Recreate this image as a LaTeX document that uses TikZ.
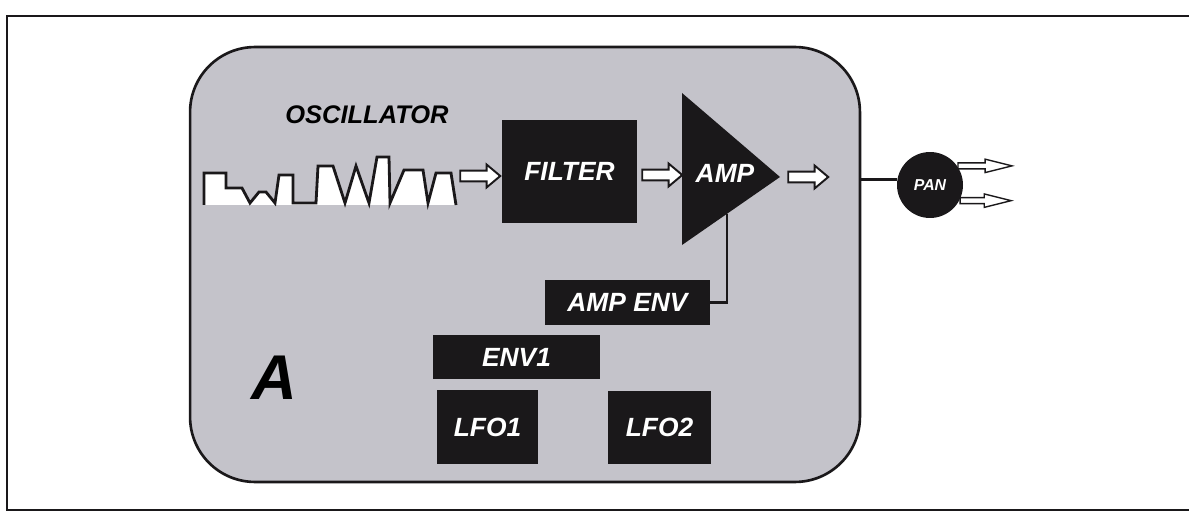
\documentclass[tikz,border=0pt]{standalone}
\usepackage{fontspec}
\setmainfont{Liberation Sans}
\usetikzlibrary{shapes.arrows,calc}
\definecolor{halftone}{RGB}{196,195,202}
\definecolor{ink}{RGB}{26,24,26}
\begin{document}
\begin{tikzpicture}[x=0.02cm,y=-0.02cm,
        lbl/.style={font=\bfseries\itshape\fontsize{15}{15}\selectfont},
        blk/.style={lbl,fill=ink,text=white,inner sep=0pt},
        hollow/.style={single arrow,draw=ink,line width=1.1pt,fill=white,minimum height=0.8cm,inner sep=0.09cm,single arrow head extend=0.12cm,single arrow tip angle=80},
        thinarrow/.style={single arrow,draw=ink,line width=0.8pt,fill=white,inner sep=0.045cm,single arrow head extend=0.075cm,single arrow tip angle=28}]
        \useasboundingbox (0,0) rectangle (1189,513);
        % frame, open on the right
        \draw[ink,line width=1.6pt] (1189,16) -- (7,16) -- (7,510) -- (1189,510);
        % voice A
        \node[draw=ink,line width=1.5pt,fill=halftone,rounded corners=1.3cm,minimum width=13.4cm,minimum height=8.7cm] (voice) at (525,264.5) {};
        \node[font=\bfseries\itshape\fontsize{36}{36}\selectfont] (voice-id) at (274,378) {A};
        % oscillator waveform
        \node[lbl,font=\bfseries\itshape\fontsize{14.5}{14.5}\selectfont] (osc) at (367,115) {OSCILLATOR};
        \draw[ink,line width=1.6pt,fill=white] (204,205) -- (204,173) -- (226,173) -- (226,188) -- (242,188) -- (250,203) -- (259,192) -- (266,192) -- (275,203) -- (279,175) -- (293,175) -- (293,203) -- (316,203) -- (318,166) -- (333,166) -- (345,203) -- (356,166) -- (369,203) -- (377,157) -- (389,157) -- (390,203) -- (404,170) -- (423,170) -- (428,203) -- (436,173) -- (451,173) -- (456,205);
        % modules
        \foreach \n/\x/\y/\w/\h/\t in {filter/569.5/171.5/2.7/2.06/FILTER,ampenv/627.5/302.5/3.3/0.9/AMP ENV,env1/516.5/357/3.34/0.88/ENV1,lfo1/487.5/427/2.02/1.48/LFO1,lfo2/659.5/427.5/2.06/1.48/LFO2}{
            \node[blk,minimum width=\w cm,minimum height=\h cm] (\n) at (\x,\y) {\t};
        }
        \fill[ink] (682,93) coordinate (amp-top) -- (780,177) coordinate (amp-tip) -- (682,245) coordinate (amp-bot) -- cycle;
        \node[lbl,text=white] (amp) at (725,173) {AMP};
        \coordinate (amp-cv) at ($(amp-bot)!0.46!(amp-tip)$);
        \draw[ink,line width=1.5pt] (ampenv.east) -| (amp-cv);
        % signal flow
        \foreach \n/\x/\y in {osc-out/477/176,filter-out/659/175,amp-out/805/177}{
            \node[hollow] (\n) at (\x,\y) {};
        }
        % pan
        \node[circle,fill=ink,minimum size=1.32cm,inner sep=0pt,text=white,font=\bfseries\itshape\fontsize{9}{9}\selectfont] (pan) at (930,185) {PAN};
        \draw[ink,line width=1.7pt] (pan.170 -| voice.east) -- (pan.170);
        \node[thinarrow,minimum height=1.08cm,anchor=tail] (pan-l) at (pan.35) {};
        \node[thinarrow,minimum height=1.02cm,anchor=tail] (pan-r) at (pan.-28) {};
    \end{tikzpicture}
\end{document}
